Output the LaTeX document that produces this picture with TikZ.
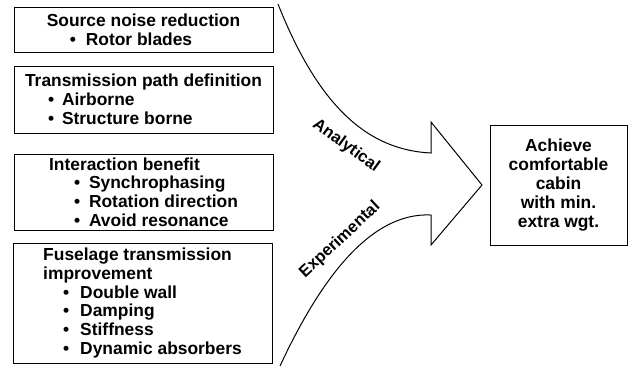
\documentclass[tikz,border=0pt]{standalone}
\usepackage{fontspec}
\setmainfont{Liberation Sans}
\usetikzlibrary{positioning}
\tikzstyle{topicbox} = [rectangle, draw=black, line width=1pt, minimum width=259pt, align=left, inner sep=0pt, font=\bfseries\fontsize{17.4}{18.8}\selectfont]
\tikzstyle{goalbox} = [rectangle, draw=black, line width=1pt, minimum width=137pt, minimum height=120pt, align=center, font=\bfseries\fontsize{17.4}{18.8}\selectfont]
\tikzstyle{routelabel} = [font=\bfseries\fontsize{16.5}{18}\selectfont, inner sep=0pt]
\tikzstyle{bigarrow} = [draw=black, line width=1pt, line join=miter]
\newcommand{\bul}[1]{\makebox[#1][l]{•}}

\begin{document}
\begin{tikzpicture}[x=1pt, y=-1pt]
  \useasboundingbox (0,0) rectangle (628,365);

  % Left side: topic boxes
  \node (source) at (143.5,29.5) [topicbox, minimum height=45pt] {Source noise reduction\\
    \hspace*{23pt}\bul{16pt}Rotor blades};
  \node (path) at (143.5,99.5) [topicbox, minimum height=67pt] {Transmission path definition\\
    \hspace*{23pt}\bul{14pt}Airborne\\
    \hspace*{23pt}\bul{14pt}Structure borne};
  \node (interact) at (143.5,192) [topicbox, minimum height=76pt] {Interaction benefit\\
    \hspace*{25pt}\bul{15pt}Synchrophasing\\
    \hspace*{25pt}\bul{15pt}Rotation direction\\
    \hspace*{25pt}\bul{15pt}Avoid resonance};
  \node (fuselage) at (142.5,303) [topicbox, minimum height=120pt] {Fuselage transmission\\
    improvement\\
    \hspace*{20pt}\bul{17pt}Double wall\\
    \hspace*{20pt}\bul{17pt}Damping\\
    \hspace*{20pt}\bul{17pt}Stiffness\\
    \hspace*{20pt}\bul{17pt}Dynamic absorbers};

  % Right side: goal
  \node (goal) at (558.5,185) [goalbox] {Achieve\\comfortable\\cabin\\with min.\\extra wgt.};

  % Merging arrow
  \draw[bigarrow] (278,4) .. controls (320,110) and (370,150) .. (431,153)
    -- (431,122) -- (482,185) -- (431,245) -- (431,215)
    .. controls (370,212) and (320,280) .. (280,366);

  % Route labels
  \node (analytic) at (346,146) [routelabel, rotate=-36] {Analytical};
  \node (experiment) at (340,240) [routelabel, rotate=43] {Experimental};

\end{tikzpicture}
\end{document}
